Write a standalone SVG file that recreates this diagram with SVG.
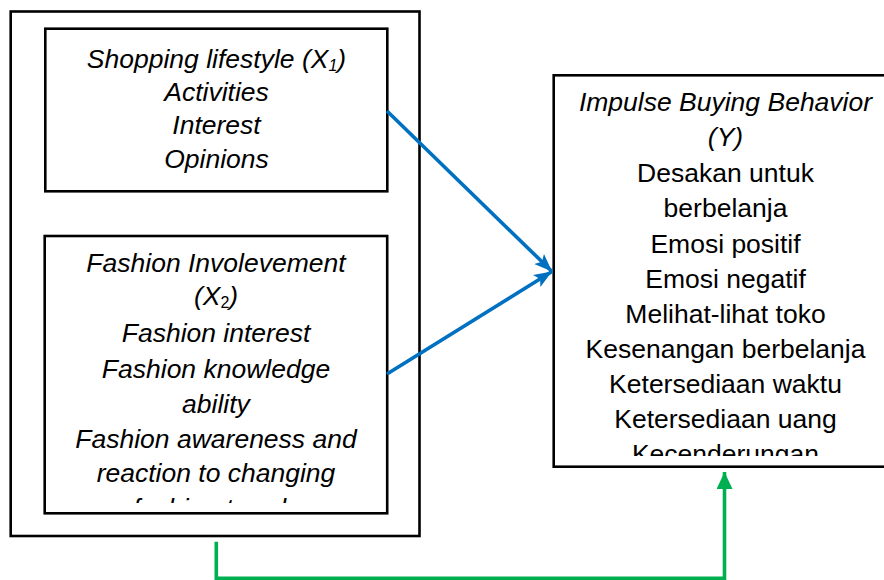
<svg xmlns="http://www.w3.org/2000/svg" width="884" height="580" viewBox="0 0 884 580">
<style>
.box{fill:#fff;stroke:#000;stroke-width:2.6}
.t{font-family:"Liberation Sans",Arial,sans-serif;font-size:26.5px;fill:#000;text-anchor:middle}
.i{font-style:italic}
.blue{stroke:#0070C0;stroke-width:3.6;fill:none}
.green{stroke:#00B050;stroke-width:3.6;fill:none}
</style>
<defs>
<marker id="ab" markerUnits="userSpaceOnUse" markerWidth="20" markerHeight="16" refX="18" refY="7" orient="auto" viewBox="0 0 20 14">
<path d="M0,0 L18,7 L0,14 L4,7 Z" fill="#0070C0"/>
</marker>
<marker id="ag" markerUnits="userSpaceOnUse" markerWidth="18" markerHeight="16" refX="17" refY="8" orient="auto" viewBox="0 0 18 16">
<path d="M0,0 L17,8 L0,16 Z" fill="#00B050"/>
</marker>
<clipPath id="c2"><rect x="46" y="238" width="340" height="265"/></clipPath>
<clipPath id="c3"><rect x="555" y="77" width="329" height="379"/></clipPath>
</defs>
<g id="outer">
<rect class="box" x="10.7" y="11.5" width="408.8" height="524.5" fill="none"/>
</g>
<g id="x1">
<rect class="box" x="45.3" y="28.7" width="342" height="162.6"/>
<text class="t i" x="216.5" y="67.5">Shopping lifestyle (X<tspan font-size="16" dy="3">1</tspan><tspan dy="-3">)</tspan></text>
<text class="t i" x="216.5" y="100.5">Activities</text>
<text class="t i" x="216.5" y="134">Interest</text>
<text class="t i" x="216.5" y="167.5">Opinions</text>
</g>
<g id="x2">
<rect class="box" x="44.7" y="236" width="342.5" height="277.3"/>
<g clip-path="url(#c2)">
<text class="t i" x="216" y="272">Fashion Involevement</text>
<text class="t i" x="216" y="305">(X<tspan font-size="16" dy="3" font-style="normal">2</tspan><tspan dy="-3">)</tspan></text>
<text class="t i" x="216" y="341.5">Fashion interest</text>
<text class="t i" x="216" y="377.5">Fashion knowledge</text>
<text class="t i" x="216" y="412.5">ability</text>
<text class="t i" x="216" y="447.5">Fashion awareness and</text>
<text class="t i" x="216" y="481.5">reaction to changing</text>
<text class="t i" x="216" y="516.5">fashion trends</text>
</g>
</g>
<g id="y">
<rect class="box" x="553.7" y="75.3" width="345" height="391.4"/>
<g clip-path="url(#c3)">
<text class="t i" x="725.5" y="111">Impulse Buying Behavior</text>
<text class="t i" x="725.5" y="146">(Y)</text>
<text class="t" x="725.5" y="182">Desakan untuk</text>
<text class="t" x="725.5" y="217">berbelanja</text>
<text class="t" x="725.5" y="252.5">Emosi positif</text>
<text class="t" x="725.5" y="288">Emosi negatif</text>
<text class="t" x="725.5" y="323">Melihat-lihat toko</text>
<text class="t" x="725.5" y="358">Kesenangan berbelanja</text>
<text class="t" x="725.5" y="393">Ketersediaan waktu</text>
<text class="t" x="725.5" y="428">Ketersediaan uang</text>
<text class="t" x="725.5" y="463">Kecenderungan</text>
</g>
</g>
<g id="connectors">
<line class="blue" x1="387" y1="111" x2="552" y2="271.5" marker-end="url(#ab)"/>
<line class="blue" x1="387" y1="374" x2="552" y2="271.5" marker-end="url(#ab)"/>
<polyline class="green" points="216.3,541.7 216.3,578.3 724.5,578.3 724.5,472" marker-end="url(#ag)"/>
</g>
</svg>
